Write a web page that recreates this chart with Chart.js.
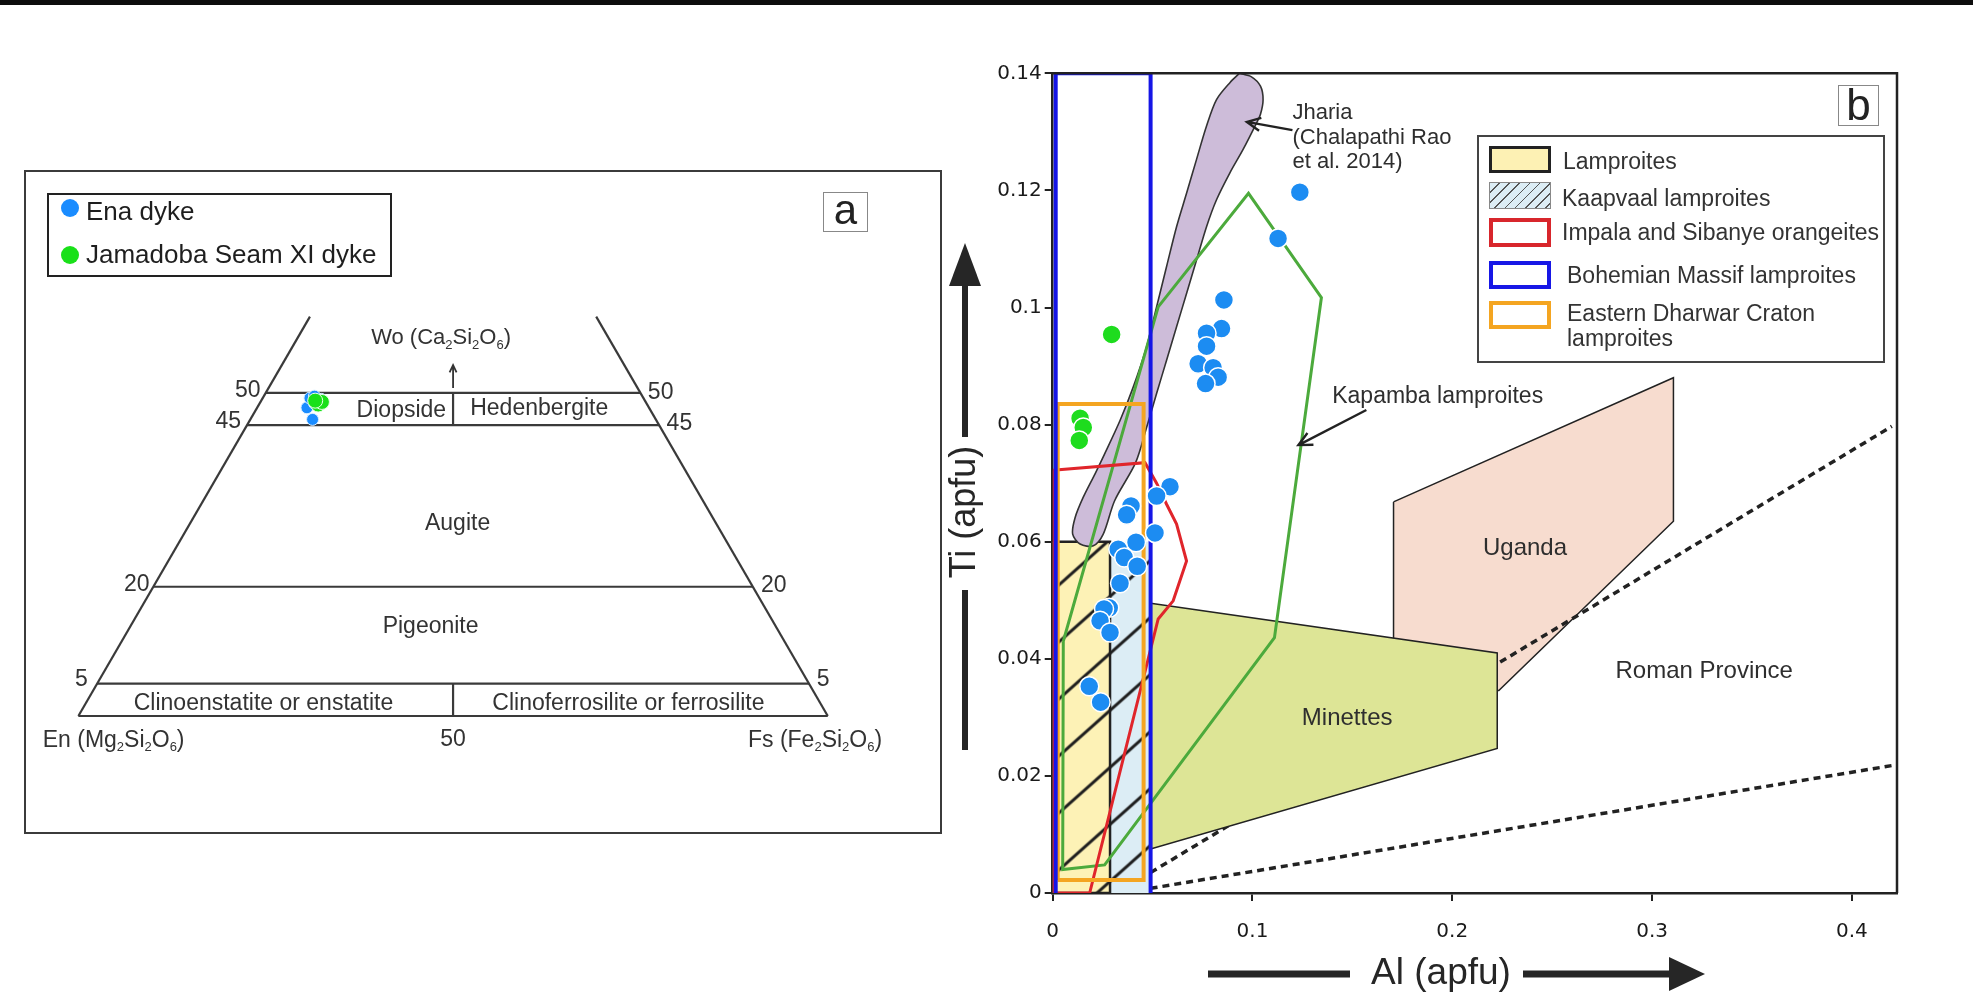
<!DOCTYPE html>
<html>
<head>
<meta charset="utf-8">
<title>Pyroxene compositions</title>
<script src="https://cdn.jsdelivr.net/npm/chart.js@4.4.1/dist/chart.umd.min.js"></script>
<style>
  html, body { margin: 0; padding: 0; background: #fff; }
  body { position: relative; width: 1973px; height: 1006px; overflow: hidden;
         font-family: "Liberation Sans", Arial, sans-serif; color: #2e2e2e; }
  .abs { position: absolute; box-sizing: border-box; }
  .topbar { left: 0; top: 0; width: 1973px; height: 5px; background: #0d0d0d; }
  .frameA { left: 24px; top: 170px; width: 918px; height: 664px; border: 2.5px solid #3b3b3b; }
  .legA { left: 47px; top: 193px; width: 345px; height: 84px; border: 2px solid #222; }
  .dot { width: 18px; height: 18px; border-radius: 50%; }
  .legA-text { font-size: 26px; line-height: 30px; color: #1e1e1e; white-space: nowrap; }
  .tag { border: 1.5px solid #888; text-align: center; color: #222; }
  .legB { left: 1477px; top: 135px; width: 408px; height: 228px; border: 2px solid #444; }
  .sw { left: 1489px; width: 62px; }
  .legB-text { font-size: 23px; line-height: 28px; color: #333; white-space: nowrap; }
  canvas { position: absolute; }
</style>
</head>
<body>
<div class="abs topbar"></div>

<!-- panel a -->
<div class="abs frameA"></div>
<canvas id="quad" width="912" height="657" style="left:27px;top:174px;width:912px;height:657px"></canvas>
<div class="abs legA"></div>
<div class="abs dot" style="left:61px;top:199px;background:#1a8cff"></div>
<div class="abs legA-text" style="left:86px;top:196px">Ena dyke</div>
<div class="abs dot" style="left:61px;top:246px;background:#19e019"></div>
<div class="abs legA-text" style="left:86px;top:239px">Jamadoba Seam XI dyke</div>
<div class="abs tag" style="left:823px;top:192px;width:45px;height:40px;font-size:42px;line-height:34px">a</div>

<!-- panel b -->
<canvas id="tial" width="1028" height="966" style="left:945px;top:40px;width:1028px;height:966px"></canvas>
<div class="abs tag" style="left:1838px;top:85px;width:41px;height:41px;font-size:44px;line-height:38px">b</div>
<div class="abs legB"></div>
<div class="abs sw" style="top:146px;height:27px;background:#fdf1b4;border:3px solid #222"></div>
<div class="abs sw" style="top:182px;height:27px;border:1.5px solid #888;background:repeating-linear-gradient(135deg,#dcedf5 0 6px,#555 6px 7.2px)"></div>
<div class="abs sw" style="top:218px;height:29px;border:4px solid #d8262c"></div>
<div class="abs sw" style="top:261px;height:28px;border:4px solid #1717e6"></div>
<div class="abs sw" style="top:301px;height:28px;border:4px solid #f4a521"></div>
<div class="abs legB-text" style="left:1563px;top:147px">Lamproites</div>
<div class="abs legB-text" style="left:1562px;top:184px">Kaapvaal lamproites</div>
<div class="abs legB-text" style="left:1562px;top:218px">Impala and Sibanye orangeites</div>
<div class="abs legB-text" style="left:1567px;top:261px">Bohemian Massif lamproites</div>
<div class="abs legB-text" style="left:1567px;top:299px">Eastern Dharwar Craton</div>
<div class="abs legB-text" style="left:1567px;top:324px">lamproites</div>

<script>
// ---------- panel a: pyroxene quadrilateral, mol % as [Wo, Fs] ----------
const enaWo = [47.7, 45.9, 49.2, 49.0, 49.5, 48.4];
const enaFs = [6.65, 8.3, 6.3, 7.9, 6.75, 7.3];
const jamWo = [48.2, 48.6, 48.8];
const jamFs = [7.9, 8.2, 7.2];
const woLevels = [50, 45, 20, 5, 0];
const sideTopWo = 61.8;
const dividers = [[[45, 27.5], [50, 25]], [[0, 50], [5, 47.5]]];

// ---------- panel b: Ti vs Al (apfu) ----------
const enaAl = [0.1237, 0.1128, 0.0857, 0.0845, 0.0770, 0.0770, 0.0728, 0.0803, 0.0828, 0.0765,
               0.0587, 0.0520, 0.0392, 0.0370, 0.0512, 0.0417, 0.0328, 0.0358, 0.0423, 0.0337,
               0.0283, 0.0257, 0.0237, 0.0287, 0.0183, 0.0240];
const enaTi = [0.1197, 0.1118, 0.1013, 0.0964, 0.0956, 0.0934, 0.0904, 0.0897, 0.0881, 0.0870,
               0.0694, 0.0678, 0.0661, 0.0646, 0.0615, 0.0599, 0.0587, 0.0573, 0.0558, 0.0529,
               0.0487, 0.0485, 0.0465, 0.0445, 0.0353, 0.0326];
const jamAl = [0.0295, 0.0137, 0.0153, 0.0133];
const jamTi = [0.0954, 0.0811, 0.0795, 0.0773];

const xTicks = [0, 0.1, 0.2, 0.3, 0.4];
const xTickLabels = ["0", "0.1", "0.2", "0.3", "0.4"];
const yTicks = [0, 0.02, 0.04, 0.06, 0.08, 0.1, 0.12, 0.14];
const yTickLabels = ["0", "0.02", "0.04", "0.06", "0.08", "0.1", "0.12", "0.14"];

// fields, [Al, Ti]
const lamproitesField = [[0, 0], [0.0287, 0], [0.0287, 0.06], [0, 0.06], [0, 0]];
const kaapvaalField = [[0, 0], [0.049, 0], [0.049, 0.06], [0, 0.06], [0, 0]];
const bohemianField = [[0.0015, -0.0005], [0.049, -0.0005], [0.049, 0.14], [0.0015, 0.14], [0.0015, -0.0005]];
const dharwarField = [[0.0025, 0.0022], [0.0455, 0.0022], [0.0455, 0.0835], [0.0025, 0.0835], [0.0025, 0.0022]];
const impalaField = [[0, 0.0722], [0.0462, 0.0735], [0.052, 0.070], [0.057, 0.0664], [0.062, 0.063],
                     [0.067, 0.0567], [0.0603, 0.0499], [0.0528, 0.0468], [0.0185, 0], [0, 0], [0, 0.0722]];
const kapambaField = [[0.0053, 0.043], [0.0528, 0.1001], [0.098, 0.1195], [0.1345, 0.1017],
                      [0.111, 0.0436], [0.026, 0.0048], [0.005, 0.004], [0.0053, 0.043]];
const jhariaField = [[0.0935, 0.1400], [0.0995, 0.1394], [0.1040, 0.1378], [0.1053, 0.1355], [0.1040, 0.1330],
                     [0.1020, 0.1315], [0.0953, 0.1270], [0.0887, 0.1230], [0.0820, 0.1184], [0.0770, 0.1138],
                     [0.0720, 0.1081], [0.0670, 0.1024], [0.0620, 0.0967], [0.0570, 0.0910], [0.0520, 0.0853],
                     [0.0470, 0.0795], [0.0415, 0.0735], [0.0310, 0.0670], [0.0253, 0.0613], [0.0203, 0.0593],
                     [0.0137, 0.0596], [0.0100, 0.0613], [0.0112, 0.0641], [0.0153, 0.0676], [0.0212, 0.0716],
                     [0.0260, 0.0750], [0.0337, 0.0807], [0.0403, 0.0864], [0.0470, 0.0933], [0.0520, 0.1001],
                     [0.0570, 0.1070], [0.0620, 0.1138], [0.0670, 0.1195], [0.0720, 0.1253], [0.0770, 0.1310],
                     [0.0820, 0.1355], [0.0887, 0.1384], [0.0935, 0.1400]];
const ugandaField = [[0.1706, 0.0668], [0.3107, 0.088], [0.3107, 0.0635], [0.2233, 0.0346], [0.1706, 0.0346], [0.1706, 0.0668]];
const minettesField = [[0.049, 0.0495], [0.2225, 0.041], [0.2225, 0.0247], [0.049, 0.0075], [0.049, 0.0495]];
const romanUpper = [[0.049, 0.0035], [0.42, 0.0797]];
const romanLower = [[0.049, 0.0008], [0.4207, 0.0218]];

const FONT = '"Liberation Sans", Arial, sans-serif';

function richText(ctx, str, x, y, size, align) {
  // "_" marks the following character as a subscript
  const parts = [];
  for (let i = 0; i < str.length; i++) {
    if (str[i] === "_") { parts.push({ t: str[++i], sub: true }); continue; }
    const last = parts[parts.length - 1];
    if (last && !last.sub) last.t += str[i]; else parts.push({ t: str[i], sub: false });
  }
  const fN = size + "px " + FONT, fS = Math.round(size * 0.58) + "px " + FONT;
  let w = 0;
  parts.forEach(p => { ctx.font = p.sub ? fS : fN; p.w = ctx.measureText(p.t).width; w += p.w; });
  let cx = align === "center" ? x - w / 2 : align === "right" ? x - w : x;
  ctx.textAlign = "left";
  ctx.textBaseline = "middle";
  parts.forEach(p => {
    ctx.font = p.sub ? fS : fN;
    ctx.fillText(p.t, cx, p.sub ? y + size * 0.32 : y);
    cx += p.w;
  });
}

function openArrow(ctx, x1, y1, x2, y2, head, lw) {
  const ang = Math.atan2(y2 - y1, x2 - x1);
  ctx.lineWidth = lw;
  ctx.beginPath();
  ctx.moveTo(x1, y1); ctx.lineTo(x2, y2);
  ctx.moveTo(x2 - head * Math.cos(ang - 0.45), y2 - head * Math.sin(ang - 0.45));
  ctx.lineTo(x2, y2);
  ctx.lineTo(x2 - head * Math.cos(ang + 0.45), y2 - head * Math.sin(ang + 0.45));
  ctx.stroke();
}

// ================= panel a =================
const tern = (wo, fs) => ({ x: fs + wo / 2, y: wo });

const aSegments = [
  [[0, 0], [sideTopWo, 0]],
  [[0, 100], [sideTopWo, 100 - sideTopWo]],
  ...woLevels.map(w => [[w, 0], [w, 100 - w]]),
  ...dividers
];

const aLabels = [
  { t: "Wo (Ca_2Si_2O_6)", x: 48.4, y: 58.5, s: 22 },
  { t: "Diopside", x: 43.1, y: 47.3, s: 23 },
  { t: "Hedenbergite", x: 61.5, y: 47.5, s: 23 },
  { t: "Augite", x: 50.6, y: 29.7, s: 23 },
  { t: "Pigeonite", x: 47.0, y: 13.85, s: 23 },
  { t: "Clinoenstatite or enstatite", x: 24.7, y: 1.95, s: 23 },
  { t: "Clinoferrosilite or ferrosilite", x: 73.4, y: 1.95, s: 23 },
  { t: "En (Mg_2Si_2O_6)", x: 4.7, y: -3.8, s: 23 },
  { t: "50", x: 50, y: -3.7, s: 23 },
  { t: "Fs (Fe_2Si_2O_6)", x: 98.3, y: -3.8, s: 23 },
  { t: "50", x: 22.6, y: 50.3, s: 23 },
  { t: "45", x: 20.0, y: 45.6, s: 23 },
  { t: "20", x: 7.8, y: 20.3, s: 23 },
  { t: "5", x: 0.4, y: 5.7, s: 23 },
  { t: "50", x: 77.7, y: 50.0, s: 23 },
  { t: "45", x: 80.2, y: 45.2, s: 23 },
  { t: "20", x: 92.8, y: 20.1, s: 23 },
  { t: "5", x: 99.4, y: 5.7, s: 23 }
];

const quadDecor = {
  id: "quadDecor",
  afterDatasetsDraw(chart) {
    const { ctx, scales: { x, y } } = chart;
    ctx.save();
    ctx.fillStyle = "#333";
    aLabels.forEach(l => richText(ctx, l.t, x.getPixelForValue(l.x), y.getPixelForValue(l.y), l.s, "center"));
    ctx.strokeStyle = "#333";
    openArrow(ctx, x.getPixelForValue(50), y.getPixelForValue(50.75),
              x.getPixelForValue(50), y.getPixelForValue(54.3), 8, 1.8);
    ctx.restore();
  }
};

const aDatasets = aSegments.map(seg => ({
  data: seg.map(p => tern(p[0], p[1])),
  showLine: true, pointRadius: 0, borderColor: "#3a3a3a", borderWidth: 2.2, order: 10
}));
aDatasets.push({
  label: "Jamadoba Seam XI dyke",
  data: jamWo.map((w, i) => tern(w, jamFs[i])),
  pointRadius: 7.5, backgroundColor: "#19e019", borderColor: "#e8ffe8", borderWidth: 1, order: 2
});
aDatasets.push({
  label: "Ena dyke",
  data: enaWo.map((w, i) => tern(w, enaFs[i])),
  pointRadius: 6, backgroundColor: "#1a8cff", borderColor: "#dcefff", borderWidth: 1, order: 3
});

new Chart(document.getElementById("quad"), {
  type: "scatter",
  data: { datasets: aDatasets },
  options: {
    responsive: false, animation: false, events: [],
    layout: { padding: 0 },
    plugins: { legend: { display: false }, tooltip: { enabled: false } },
    scales: {
      x: { type: "linear", display: false, min: -5.723, max: 113.71 },
      y: { type: "linear", display: false, min: -16.48, max: 82.56 }
    }
  },
  plugins: [quadDecor]
});

// ================= panel b =================
const HATCH_W = 64, HATCH_H = 57;
function makeHatch() {
  const c = document.createElement("canvas");
  c.width = HATCH_W; c.height = HATCH_H;
  const g = c.getContext("2d");
  g.strokeStyle = "#1e1e1e";
  g.lineWidth = 3;
  for (let k = -1; k <= 1; k++) {
    g.beginPath();
    g.moveTo(-HATCH_W, 2 * HATCH_H + k * HATCH_H);
    g.lineTo(2 * HATCH_W, -HATCH_H + k * HATCH_H);
    g.stroke();
  }
  return document.getElementById("tial").getContext("2d").createPattern(c, "repeat");
}
const hatch = makeHatch();

function field(pts, opts) {
  return Object.assign({
    data: pts.map(p => ({ x: p[0], y: p[1] })),
    showLine: true, pointRadius: 0, tension: 0, fill: false, borderWidth: 2
  }, opts);
}

const bLabels = [
  { t: "Jharia", x: 0.12, y: 0.1333, s: 22, a: "left" },
  { t: "(Chalapathi Rao", x: 0.12, y: 0.1289, s: 22, a: "left" },
  { t: "et al. 2014)", x: 0.12, y: 0.1248, s: 22, a: "left" },
  { t: "Kapamba lamproites", x: 0.1399, y: 0.0848, s: 23, a: "left" },
  { t: "Uganda", x: 0.2364, y: 0.0589, s: 24, a: "center" },
  { t: "Minettes", x: 0.1474, y: 0.0298, s: 24, a: "center" },
  { t: "Roman Province", x: 0.3261, y: 0.0378, s: 24, a: "center" }
];
const bArrows = [
  { from: [0.12, 0.1303], to: [0.0972, 0.1317] },
  { from: [0.157, 0.0825], to: [0.123, 0.0765] }
];

const tialDecor = {
  id: "tialDecor",
  beforeDatasetsDraw(chart) {
    const { scales: { x, y } } = chart;
    hatch.setTransform(new DOMMatrix([1, 0, 0, 1, x.getPixelForValue(0), y.getPixelForValue(0.003) - HATCH_H]));
  },
  afterDatasetsDraw(chart) {
    const { ctx, chartArea: a, scales: { x, y } } = chart;
    ctx.save();
    ctx.strokeStyle = "#222";
    ctx.lineWidth = 2.5;
    ctx.beginPath();
    ctx.moveTo(a.left, a.top); ctx.lineTo(a.right, a.top); ctx.lineTo(a.right, a.bottom);
    ctx.stroke();

    ctx.strokeStyle = "#222";
    bArrows.forEach(r => openArrow(ctx, x.getPixelForValue(r.from[0]), y.getPixelForValue(r.from[1]),
                                   x.getPixelForValue(r.to[0]), y.getPixelForValue(r.to[1]), 15, 2.4));
    ctx.fillStyle = "#2e2e2e";
    bLabels.forEach(l => richText(ctx, l.t, x.getPixelForValue(l.x), y.getPixelForValue(l.y), l.s, l.a));

    // axis titles with their arrows
    ctx.fillStyle = "#262626";
    ctx.save();
    ctx.translate(20, 472);
    ctx.rotate(-Math.PI / 2);
    richText(ctx, "Ti (apfu)", 0, 0, 36, "center");
    ctx.restore();
    ctx.fillRect(17, 245, 6, 152);
    ctx.beginPath(); ctx.moveTo(4, 246); ctx.lineTo(36, 246); ctx.lineTo(20, 203); ctx.closePath(); ctx.fill();
    ctx.fillRect(17, 550, 6, 160);

    richText(ctx, "Al (apfu)", 496, 934, 37, "center");
    ctx.fillRect(263, 930.5, 142, 7);
    ctx.fillRect(578, 930.5, 148, 7);
    ctx.beginPath(); ctx.moveTo(724, 917); ctx.lineTo(724, 951); ctx.lineTo(760, 934); ctx.closePath(); ctx.fill();
    ctx.restore();
  }
};

const tickFont = { family: "DejaVu Sans", size: 20 };

new Chart(document.getElementById("tial"), {
  type: "scatter",
  data: {
    datasets: [
      field(ugandaField, { fill: "shape", backgroundColor: "#f7dccf", borderColor: "#222", borderWidth: 1.5, order: 20 }),
      field(romanUpper, { borderColor: "#222", borderWidth: 3.5, borderDash: [7, 5], order: 19 }),
      field(romanLower, { borderColor: "#222", borderWidth: 3.5, borderDash: [7, 5], order: 19 }),
      field(minettesField, { fill: "shape", backgroundColor: "#dde596", borderColor: "#222", borderWidth: 1.5, order: 18 }),
      field(kaapvaalField, { fill: "shape", backgroundColor: "#dcedf5", borderWidth: 0, order: 17 }),
      field(lamproitesField, { fill: "shape", backgroundColor: "#fdf2b6", borderColor: "#222", borderWidth: 2.5, order: 16 }),
      field(kaapvaalField, { fill: "shape", backgroundColor: hatch, borderWidth: 0, order: 15 }),
      field(jhariaField, { fill: "shape", backgroundColor: "#cdbcd9", borderColor: "#333", borderWidth: 1.6, tension: 0.3, order: 14 }),
      field(kapambaField, { borderColor: "#4caa3c", borderWidth: 3, order: 13 }),
      field(impalaField, { borderColor: "#e0252b", borderWidth: 3, order: 12 }),
      field(dharwarField, { borderColor: "#f4a521", borderWidth: 4, order: 11 }),
      field(bohemianField, { borderColor: "#1515e6", borderWidth: 4, order: 10 }),
      {
        label: "Jamadoba Seam XI dyke",
        data: jamAl.map((v, i) => ({ x: v, y: jamTi[i] })),
        pointRadius: 9.5, backgroundColor: "#1edc1e", borderColor: "#fff", borderWidth: 1.5, order: 2
      },
      {
        label: "Ena dyke",
        data: enaAl.map((v, i) => ({ x: v, y: enaTi[i] })),
        pointRadius: 9.5, backgroundColor: "#1c8cf2", borderColor: "#fff", borderWidth: 1.5, order: 1
      }
    ]
  },
  options: {
    responsive: false, animation: false, events: [],
    layout: { padding: { top: 33.3, right: 76, left: 0, bottom: 0 } },
    plugins: { legend: { display: false }, tooltip: { enabled: false } },
    scales: {
      x: {
        type: "linear", min: 0, max: 0.4226,
        afterBuildTicks: s => { s.ticks = xTicks.map(v => ({ value: v })); },
        afterFit: s => { s.height = 113; },
        ticks: { autoSkip: false, maxRotation: 0, callback: (v, i) => xTickLabels[i], color: "#1a1a1a", font: tickFont, padding: 19 },
        grid: { drawOnChartArea: false, drawTicks: true, tickLength: 8, color: "#222", lineWidth: 2 },
        border: { display: true, color: "#222", width: 2.5 }
      },
      y: {
        type: "linear", min: 0, max: 0.14,
        afterBuildTicks: s => { s.ticks = yTicks.map(v => ({ value: v })); },
        afterFit: s => { s.width = 107.7; },
        ticks: { autoSkip: false, callback: (v, i) => yTickLabels[i], color: "#1a1a1a", font: tickFont, padding: 3 },
        grid: { drawOnChartArea: false, drawTicks: true, tickLength: 8, color: "#222", lineWidth: 2 },
        border: { display: true, color: "#222", width: 2.5 }
      }
    }
  },
  plugins: [tialDecor]
});
</script>
</body>
</html>
